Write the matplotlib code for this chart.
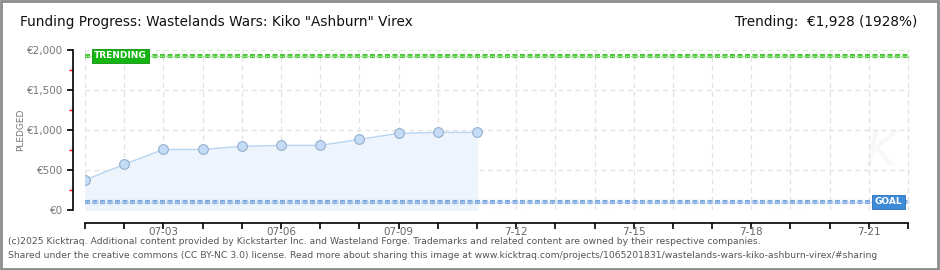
import matplotlib.pyplot as plt
from matplotlib.patches import Rectangle

# funding data (day of July -> pledged EUR)
days = [1, 2, 3, 4, 5, 6, 7, 8, 9, 10, 11]
pledged = [375, 570, 757, 757, 796, 808, 808, 883, 958, 971, 971]
goal = 100
trending = 1928

tick_days = list(range(1, 23))
tick_labels = {3: "07-03", 6: "07-06", 9: "07-09", 12: "7-12",
               15: "7-15", 18: "7-18", 21: "7-21"}
y_ticks = [0, 500, 1000, 1500, 2000]
y_labels = ["€0", "€500", "€1,000", "€1,500", "€2,000"]

title = 'Funding Progress: Wastelands Wars: Kiko "Ashburn" Virex'
trend_text = "Trending:  €1,928 (1928%)"
footer1 = ("(c)2025 Kicktraq. Additional content provided by Kickstarter Inc. and Wasteland Forge. "
           "Trademarks and related content are owned by their respective companies.")
footer2 = ("Shared under the creative commons (CC BY-NC 3.0) license. Read more about sharing this image at "
           "www.kicktraq.com/projects/1065201831/wastelands-wars-kiko-ashburn-virex/#sharing")

plt.rcParams["font.family"] = ["DejaVu Sans"]

fig = plt.figure(figsize=(9.4, 2.7), dpi=100)
ax = fig.add_axes([85 / 940, 60 / 270, 825 / 940, 160 / 270])

# frame around the image
fig.patches.append(Rectangle((0.001, 0.002), 0.997, 0.995, transform=fig.transFigure,
                             fill=False, edgecolor="#8c8c8c", linewidth=2))

ax.set_xlim(1, 22.05)
ax.set_ylim(0, 2000)

# grid
ax.set_xticks(tick_days)
ax.set_yticks(y_ticks)
ax.set_yticks([250, 750, 1250, 1750], minor=True)
ax.grid(True, color="#e2e2e2", linestyle=(0, (4, 3)), linewidth=0.9)
ax.set_axisbelow(True)

# watermark
ax.text(21.3, 720, "K", fontsize=36, fontstyle="italic", color="#f8f8f8",
        ha="center", va="center", zorder=0)

# area + line
ax.fill_between(days, pledged, 0, color="#edf4fc", zorder=1)
ax.plot(days, pledged, color="#b9d5f2", linewidth=1, zorder=3)
ax.plot(days, pledged, "o", markersize=7, markerfacecolor="#c4dcf6",
        markeredgecolor="#93aecb", markeredgewidth=0.8, zorder=4)

# trending / goal lines
ax.axhline(trending, color="#4cc43c", linewidth=3, linestyle=(0, (1.2, 0.6)), zorder=2)
ax.axhline(trending, color="#a8e89c", linewidth=1, linestyle=(0, (1.2, 0.6)), zorder=2)
ax.axhline(goal, color="#7aa7dc", linewidth=3, linestyle=(0, (1.2, 0.6)), zorder=2)
ax.axhline(goal, color="#bcd5f2", linewidth=1, linestyle=(0, (1.2, 0.6)), zorder=2)

ax.annotate("TRENDING", xy=(1, trending), xytext=(9, 0), textcoords="offset pixels",
            ha="left", va="center", color="white", fontsize=6.5, fontweight="bold",
            bbox=dict(boxstyle="square,pad=0.25", facecolor="#16b514", edgecolor="#0e8f0c",
                      linewidth=0.6), zorder=5)
ax.annotate("GOAL", xy=(22, goal), xytext=(-6, 0), textcoords="offset pixels",
            ha="right", va="center", color="white", fontsize=6.5, fontweight="bold",
            bbox=dict(boxstyle="square,pad=0.3", facecolor="#3d8ad8", edgecolor="#2c6fb5",
                      linewidth=0.6), zorder=5)

# spines
for s in ["top", "right"]:
    ax.spines[s].set_visible(False)
ax.spines["left"].set_position(("outward", 9))
ax.spines["bottom"].set_position(("outward", 9))
ax.spines["bottom"].set_bounds(1, 22)
ax.spines["left"].set_linewidth(1.2)
ax.spines["bottom"].set_linewidth(1.2)

ax.set_xticklabels([tick_labels.get(d, "") for d in tick_days])
ax.set_yticklabels(y_labels)
ax.tick_params(axis="x", direction="out", length=4, width=1.2, colors="black",
               labelcolor="#666666", labelsize=7.5, pad=-1)
ax.tick_params(axis="y", which="major", direction="out", length=4, width=1.2,
               labelcolor="#777777", labelsize=7.5, pad=3)
ax.tick_params(axis="y", which="minor", direction="out", length=3, width=1, color="red")

ax.set_ylabel("PLEDGED", fontsize=6.5, color="#777777")
ax.yaxis.set_label_coords(-60 / 825, 0.5)

fig.text(20 / 940, 1 - 22 / 270, title, fontsize=9.8, color="#111111", va="center", ha="left")
fig.text(917 / 940, 1 - 22 / 270, trend_text, fontsize=9.8, color="#111111", va="center", ha="right")
fig.text(8 / 940, 1 - 242 / 270, footer1, fontsize=6.7, color="#555555", va="center", ha="left")
fig.text(8 / 940, 1 - 256 / 270, footer2, fontsize=6.7, color="#555555", va="center", ha="left")

fig.savefig("out.png", dpi=100)
